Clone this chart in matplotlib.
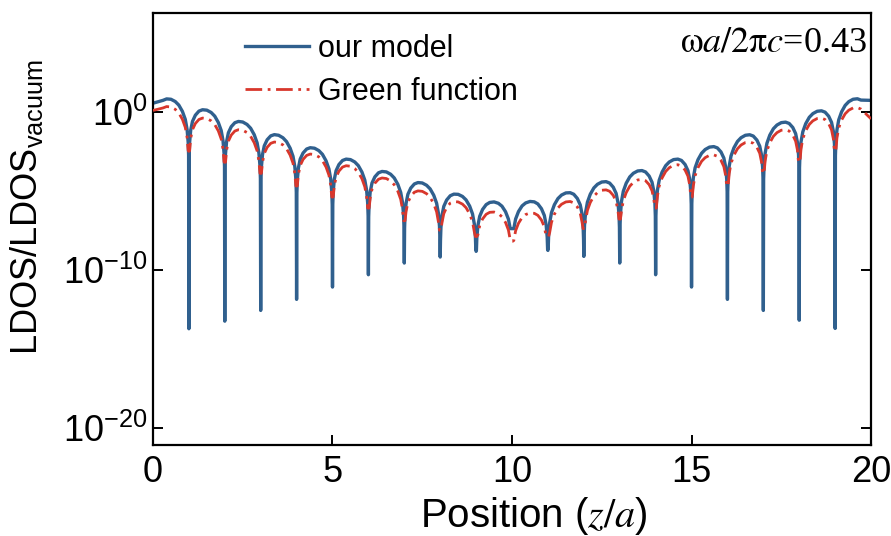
import matplotlib
matplotlib.use('Agg')
from matplotlib import pyplot as plt
from matplotlib.ticker import FixedLocator, NullLocator
import numpy as np

plt.rcParams['font.family'] = ['Liberation Sans', 'DejaVu Sans']
plt.rcParams['mathtext.fontset'] = 'custom'
plt.rcParams['mathtext.rm'] = 'Liberation Sans'
plt.rcParams['mathtext.it'] = 'Liberation Sans:italic'

# log10 of LDOS at the top of each arch (arch n spans z = n .. n+1)
blue_peaks = [0.79, 0.10, -0.65, -1.49, -2.31, -3.03, -3.81, -4.51, -5.23, -5.71,
              -5.68, -5.14, -4.45, -3.75, -3.03, -2.24, -1.49, -0.69, 0.03, 0.79]
red_peaks = [0.30, -0.43, -1.17, -1.95, -2.71, -3.45, -4.23, -5.04, -5.71, -6.35,
             -6.41, -5.71, -4.97, -4.32, -3.39, -2.76, -1.95, -1.17, -0.43, 0.24]
# log10 of LDOS at the integer positions z = 1 .. 19
blue_dips = [-13.74, -13.26, -12.58, -11.88, -11.10, -10.32, -9.58, -9.20, -8.84, -7.40,
             -8.78, -9.16, -9.58, -10.32, -11.10, -11.88, -12.58, -13.20, -13.72]
red_dips = [-2.5, -3.2, -3.9, -4.7, -5.4, -6.1, -6.9, -7.5, -7.9, -8.2,
            -7.9, -7.4, -6.8, -6.1, -5.4, -4.7, -3.9, -3.2, -2.5]
# values at the two ends z = 0 and z = 20
blue_ends = [0.54, 0.72]
red_ends = [0.08, -0.45]
# shape of one arch: distance from arch edge -> decades below the top
arch_offsets = [0.008, 0.02, 0.05, 0.10, 0.18, 0.28, 0.38, 0.50]
arch_drops = [3.2, 2.4, 1.6, 1.0, 0.55, 0.22, 0.06, 0.0]


def build(peaks, dips, ends):
    z, v = [0.0], [ends[0]]
    N = len(peaks)
    for n, p in enumerate(peaks):
        lo = peaks[max(n - 1, 0)]
        hi = peaks[min(n + 1, N - 1)]
        s = (hi - lo) / (min(n + 1, N - 1) - max(n - 1, 0))
        for f, d in zip(arch_offsets, arch_drops):
            if n == 0 and f < 0.2:
                continue
            val = p - d + s * (f - 0.5)
            if n > 0:
                val = max(val, dips[n - 1])
            z.append(n + f)
            v.append(val)
        for f, d in zip(arch_offsets[-2::-1], arch_drops[-2::-1]):
            if n == N - 1 and f < 0.2:
                continue
            val = p - d + s * (0.5 - f)
            if n < N - 1:
                val = max(val, dips[n])
            z.append(n + 1 - f)
            v.append(val)
        if n < N - 1:
            z.append(n + 1.0)
            v.append(dips[n])
    z.append(float(N))
    v.append(ends[1])
    return np.array(z), 10.0 ** np.array(v)


zb, yb = build(blue_peaks, blue_dips, blue_ends)
zr, yr = build(red_peaks, red_dips, red_ends)

fig = plt.figure(figsize=(8.91, 5.36), dpi=100)
ax = fig.add_axes([0.1717, 0.1698, 0.8059, 0.8059])

ax.plot(zb, yb, color='#30608e', lw=2.4, label='our model', zorder=2)
ax.plot(zr, yr, color='#d8372c', lw=2.0, ls=(0, (6, 2, 1, 2)),
        label='Green function', zorder=3)

ax.set_yscale('log')
ax.set_xlim(0, 20)
ax.set_ylim(10 ** -21.1, 10 ** 6.25)
ax.xaxis.set_major_locator(FixedLocator([0, 5, 10, 15, 20]))
ax.yaxis.set_major_locator(FixedLocator([1e-20, 1e-10, 1e0]))
ax.yaxis.set_minor_locator(NullLocator())
ax.set_yticklabels([r'$10^{-20}$', r'$10^{-10}$', r'$10^{0}$'])

ax.tick_params(axis='both', which='major', direction='in', length=7, width=1.4,
               labelsize=26, right=True)
ax.tick_params(axis='x', pad=7)
ax.tick_params(axis='y', pad=4)
for sp in ax.spines.values():
    sp.set_linewidth(1.6)

ax.set_xlabel('Position ($z/a$)', fontsize=29, labelpad=2, math_fontfamily='stix')
ax.xaxis.set_label_coords(0.53, -0.115)
ax.set_ylabel(r'LDOS/LDOS$_{\mathrm{vacuum}}$', fontsize=26)
ax.yaxis.set_label_coords(-0.15, 0.55)

ax.text(0.995, 0.93, r'$\mathrm{ω}a/2\mathrm{π}c$=0.43', transform=ax.transAxes,
        ha='right', va='center', fontsize=26, family='Liberation Serif',
        math_fontfamily='stix')

ax.legend(loc='upper left', bbox_to_anchor=(0.09, 1.015), frameon=False, fontsize=22,
          handlelength=2.1, handletextpad=0.3, labelspacing=0.42)

fig.savefig('out.png', dpi=100)
